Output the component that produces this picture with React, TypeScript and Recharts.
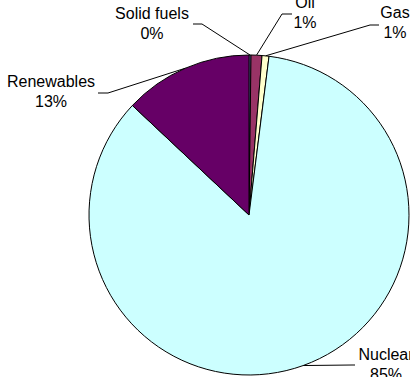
import React from "react";
import { PieChart, Pie, Cell } from "recharts";

const SOURCES = ["Solid fuels", "Oil", "Gas", "Nuclear", "Renewables"];
const SHARES = [0.2, 1.1, 0.7, 85.0, 13.0];

const COLORS: Record<string, string> = {
  "Solid fuels": "#9999ff",
  Oil: "#993366",
  Gas: "#ffffcc",
  Nuclear: "#ccffff",
  Renewables: "#660066",
};

// where Excel parked each label: text centre / first baseline, elbow of the leader, end of the short tail
const LABEL_PLACES: Record<string, { tx: number; ty: number; ex: number; ey: number; hx: number }> = {
  "Solid fuels": { tx: 152, ty: 19, ex: 202, ey: 24, hx: 193 },
  Oil: { tx: 305, ty: 8, ex: 282, ey: 14, hx: 292 },
  Gas: { tx: 395, ty: 18, ex: 370, ey: 25, hx: 379 },
  Nuclear: { tx: 386, ty: 360, ex: 352, ey: 365, hx: 355 },
  Renewables: { tx: 51, ty: 87, ex: 108, ey: 93, hx: 98 },
};

const data = SOURCES.map((name, i) => ({ name, value: SHARES[i] }));

const RADIAN = Math.PI / 180;
const FONT = "'Liberation Sans', Arial, sans-serif";

function renderLabel(props: any) {
  const { cx, cy, midAngle, outerRadius, percent, name } = props;
  const place = LABEL_PLACES[name];
  if (!place) return null;
  const sx = cx + outerRadius * Math.cos(-midAngle * RADIAN);
  const sy = cy + outerRadius * Math.sin(-midAngle * RADIAN);
  return (
    <g>
      <polyline
        points={`${sx},${sy} ${place.ex},${place.ey} ${place.hx},${place.ey}`}
        fill="none"
        stroke="#000"
        strokeWidth={1}
      />
      <text x={place.tx} y={place.ty} textAnchor="middle" fill="#000" fontSize={16} fontFamily={FONT}>
        {name}
      </text>
      <text x={place.tx} y={place.ty + 20} textAnchor="middle" fill="#000" fontSize={16} fontFamily={FONT}>
        {`${Math.round(percent * 100)}%`}
      </text>
    </g>
  );
}

export default function App() {
  return (
    <div style={{ position: "absolute", left: 0, top: 0, width: 410, height: 377, background: "#fff" }}>
      <PieChart width={410} height={377} margin={{ top: 0, right: 0, bottom: 0, left: 0 }}>
        <Pie
          data={data}
          dataKey="value"
          nameKey="name"
          cx={249}
          cy={215}
          outerRadius={160}
          startAngle={90}
          endAngle={-270}
          stroke="#000"
          strokeWidth={1}
          label={renderLabel}
          labelLine={false}
          isAnimationActive={false}
        >
          {data.map((d) => (
            <Cell key={d.name} fill={COLORS[d.name]} />
          ))}
        </Pie>
      </PieChart>
    </div>
  );
}
